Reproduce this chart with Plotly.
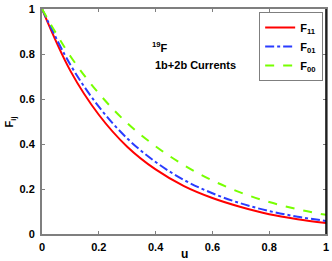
import plotly.graph_objects as go

u = [0.0, 0.1, 0.2, 0.3, 0.4, 0.5, 0.6, 0.7, 0.8, 0.9, 1.0]
F11 = [1.0, 0.725, 0.530, 0.388, 0.287, 0.213, 0.160, 0.120, 0.088, 0.066, 0.049]
F01 = [1.0, 0.752, 0.566, 0.425, 0.320, 0.240, 0.181, 0.136, 0.102, 0.077, 0.058]
F00 = [1.0, 0.790, 0.625, 0.493, 0.390, 0.306, 0.238, 0.184, 0.142, 0.110, 0.085]
tick_vals = [0, 0.2, 0.4, 0.6, 0.8, 1]
tick_text = ["0", "0.2", "0.4", "0.6", "0.8", "1"]

FONT = "Liberation Sans, Arial, sans-serif"
GRAY = "#7f7f7f"
bold_ticks = ["<b>%s</b>" % t for t in tick_text]

fig = go.Figure()
fig.add_trace(go.Scatter(x=u, y=F11, mode="lines", name="<b>F<sub>11</sub></b>",
                         line=dict(color="#ff0000", width=2, dash="solid", shape="spline")))
fig.add_trace(go.Scatter(x=u, y=F01, mode="lines", name="<b>F<sub>01</sub></b>",
                         line=dict(color="#2a3cff", width=2, dash="dashdot", shape="spline")))
fig.add_trace(go.Scatter(x=u, y=F00, mode="lines", name="<b>F<sub>00</sub></b>",
                         line=dict(color="#77ff00", width=2, dash="dash", shape="spline")))

axis_common = dict(
    showline=True, linecolor=GRAY, linewidth=2, mirror="ticks",
    ticks="inside", ticklen=3, tickcolor=GRAY, tickwidth=1,
    showgrid=False, zeroline=False, automargin=False,
    tickfont=dict(family=FONT, size=11, color="black"),
)

fig.update_xaxes(range=[0, 1], tickvals=tick_vals, ticktext=bold_ticks,
                 ticklabelstandoff=2, **axis_common)
fig.update_yaxes(range=[0, 1], tickvals=tick_vals, ticktext=bold_ticks,
                 ticklabelstandoff=3, **axis_common)

# axis titles
fig.add_annotation(x=0.5, y=-0.089, xref="paper", yref="paper", xanchor="center", yanchor="middle",
                   text="<b>u</b>", showarrow=False,
                   font=dict(family=FONT, size=12, color="black"))
fig.add_annotation(x=-0.113, y=0.5, xref="paper", yref="paper", xanchor="center", yanchor="middle",
                   text="<b>F<sub>ij</sub></b>", showarrow=False, textangle=-90,
                   font=dict(family=FONT, size=11, color="black"))

# right border appears black in the reference
fig.add_shape(type="line", xref="paper", yref="paper", x0=1, x1=1, y0=0, y1=1,
              line=dict(color="black", width=1.5))

fig.add_annotation(x=0.38, y=0.83, xref="x", yref="y", xanchor="left", yanchor="middle",
                   text="<b><sup>19</sup>F</b>", showarrow=False,
                   font=dict(family=FONT, size=11, color="black"))
fig.add_annotation(x=0.39, y=0.751, xref="x", yref="y", xanchor="left", yanchor="middle",
                   text="<b>1b+2b Currents</b>", showarrow=False,
                   font=dict(family=FONT, size=11, color="black"))

fig.update_layout(
    width=332, height=261,
    margin=dict(l=42, r=6, t=9, b=27),
    paper_bgcolor="white", plot_bgcolor="white",
    showlegend=True,
    legend=dict(x=0.99, y=0.987, xanchor="right", yanchor="top",
                bgcolor="white", bordercolor=GRAY, borderwidth=1,
                font=dict(family=FONT, size=11, color="black"),
                itemwidth=30, tracegroupgap=0),
)

fig.write_html("out.html", config={"displayModeBar": False},
               post_script="document.body.style.margin='0px';document.body.style.overflow='hidden';")
